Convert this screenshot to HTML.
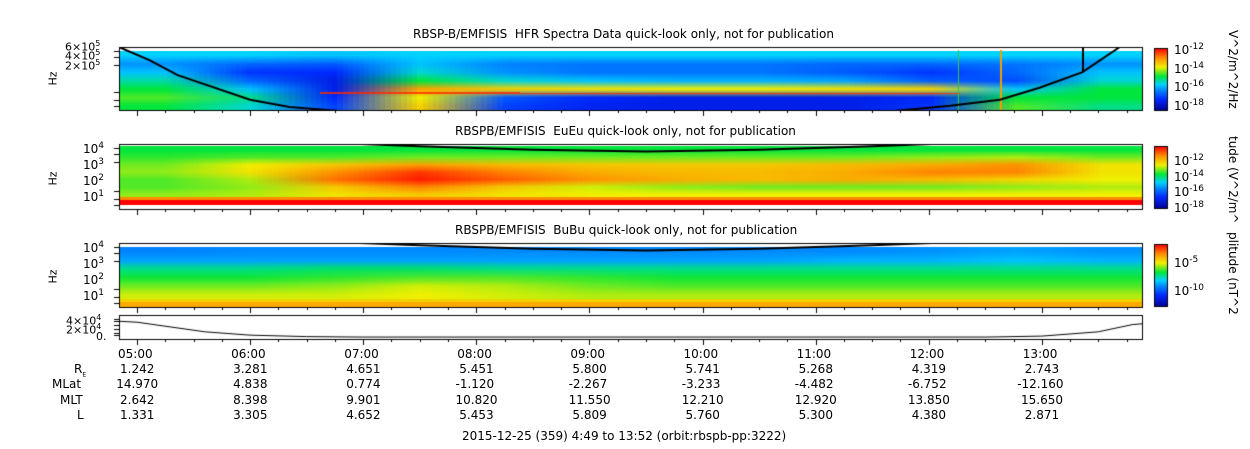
<!DOCTYPE html>
<html><head><meta charset="utf-8">
<style>
body{margin:0;background:#fff;width:1250px;height:449px;overflow:hidden;position:relative;font-family:"DejaVu Sans","Liberation Sans",sans-serif;font-size:12px;color:#000}
.a{position:absolute;white-space:nowrap}
canvas{position:absolute}
</style></head><body>
<canvas id="c" width="1250" height="449" style="left:0;top:0"></canvas>
<div class="a" style="left:413px;top:27px">RBSP-B/EMFISIS&nbsp; HFR Spectra Data quick-look only, not for publication</div>
<div class="a" style="left:455px;top:124px">RBSPB/EMFISIS&nbsp; EuEu quick-look only, not for publication</div>
<div class="a" style="left:455px;top:223px">RBSPB/EMFISIS&nbsp; BuBu quick-look only, not for publication</div>
<div class="a" style="left:462px;top:429px">2015-12-25 (359) 4:49 to 13:52 (orbit:rbspb-pp:3222)</div>
<div id="txt"></div>
<script>
// ---- data ----
const hours=["05:00","06:00","07:00","08:00","09:00","10:00","11:00","12:00","13:00"];
const rowNames=["R","MLat","MLT","L"];
const RE=["1.242","3.281","4.651","5.451","5.800","5.741","5.268","4.319","2.743"];
const MLAT=["14.970","4.838","0.774","-1.120","-2.267","-3.233","-4.482","-6.752","-12.160"];
const MLT=["2.642","8.398","9.901","10.820","11.550","12.210","12.920","13.850","15.650"];
const LSH=["1.331","3.305","4.652","5.453","5.809","5.760","5.300","4.380","2.871"];
// spectrogram grids: rows top->bottom, colormap level 0..1
const hfr=[
[.42,.42,.40,.42,.42,.42,.42,.42,.42,.42,.42,.42],
[.34,.28,.26,.40,.32,.30,.30,.30,.28,.28,.30,.34],
[.40,.20,.18,.45,.34,.30,.30,.30,.26,.20,.28,.40],
[.48,.28,.14,.55,.45,.40,.38,.38,.36,.26,.24,.45],
[.55,.40,.14,.82,.75,.72,.70,.70,.72,.74,.40,.55],
[.60,.50,.18,.70,.26,.18,.14,.14,.14,.18,.55,.55],
[.55,.45,.22,.75,.22,.16,.14,.14,.14,.20,.60,.50]];
const eueu=[
[.55,.55,.55,.55,.55,.55,.55,.55,.55,.55,.55,.55],
[.58,.60,.60,.62,.62,.62,.62,.62,.62,.64,.66,.62],
[.62,.70,.76,.82,.78,.76,.76,.76,.78,.80,.84,.72],
[.64,.72,.84,.94,.86,.80,.78,.78,.80,.86,.86,.72],
[.60,.66,.88,.97,.90,.84,.80,.78,.80,.78,.74,.70],
[.60,.64,.76,.86,.76,.68,.64,.62,.62,.62,.64,.66],
[.64,.66,.72,.76,.72,.70,.70,.70,.70,.70,.70,.70]];
const bubu=[
[.32,.33,.33,.33,.33,.33,.33,.33,.33,.34,.36,.34],
[.36,.36,.36,.36,.36,.36,.36,.36,.38,.38,.40,.38],
[.50,.50,.52,.52,.50,.50,.50,.50,.50,.50,.50,.50],
[.56,.56,.58,.60,.60,.58,.56,.56,.56,.56,.56,.56],
[.62,.62,.64,.68,.66,.62,.60,.60,.60,.60,.60,.60],
[.68,.68,.68,.70,.68,.66,.66,.66,.66,.66,.66,.66]];
// density line: hours after 05:00 -> fraction of panel height from top
const denT=[-0.16,0.11,0.36,1.0,1.35,2,6.5,7.19,7.63,7.98,8.36,8.69];
const denY=[0,.22,.47,.88,1,1.1,1.1,.98,.88,.68,.42,0];
const lowerT=[0.5,1.5,2.5,3.5,4.5,5.5,6.5,7.5,8.5];
const lowerY=[-.15,-.05,0.02,0.08,0.11,0.08,0.02,-0.05,-0.15];
const p4T=[-0.2,0,0.3,0.6,1,1.5,2,7.5,8,8.5,8.8,9.05];
const p4Y=[0.75,0.7,0.5,0.3,0.16,0.1,0.08,0.08,0.12,0.3,0.6,0.7];

// ---- layout ----
const X0=119,X1=1142;
const xs=t=>137+t*113.1;
const cvs=document.getElementById('c'),g=cvs.getContext('2d');
const stops=[[0,[0,0,150]],[.18,[0,40,255]],[.32,[0,130,255]],[.42,[0,210,255]],[.55,[0,230,60]],[.7,[240,240,0]],[.85,[255,140,0]],[1,[255,0,0]]];
function cmap(v){v=Math.max(0,Math.min(1,v));for(let i=1;i<stops.length;i++){if(v<=stops[i][0]){const a=stops[i-1],b=stops[i],f=(v-a[0])/(b[0]-a[0]);return a[1].map((c,k)=>Math.round(c+(b[1][k]-c)*f));}}return stops[stops.length-1][1];}
function spec(grid,x,y,w,h){
 const off=document.createElement('canvas');off.width=grid[0].length;off.height=grid.length;
 const o=off.getContext('2d'),im=o.createImageData(off.width,off.height);
 grid.forEach((r,i)=>r.forEach((v,j)=>{const c=cmap(v),k=(i*off.width+j)*4;im.data[k]=c[0];im.data[k+1]=c[1];im.data[k+2]=c[2];im.data[k+3]=255;}));
 o.putImageData(im,0,0);g.imageSmoothingEnabled=true;g.drawImage(off,x,y,w,h);
}
spec(hfr,X0,51,X1-X0,59);
// thin red emission lines in HFR
g.fillStyle='rgba(255,40,0,0.8)';g.fillRect(320,92,200,2);g.fillRect(520,93,440,1);
spec(eueu,X0,146,X1-X0,52);
g.fillStyle='rgb(255,140,0)';g.fillRect(X0,197,X1-X0,3);
g.fillStyle='rgb(255,0,0)';g.fillRect(X0,200,X1-X0,5);
spec(bubu,X0,247,X1-X0,52);
g.fillStyle='rgb(240,210,0)';g.fillRect(X0,299,X1-X0,5);g.fillStyle='rgb(255,170,0)';g.fillRect(X0,302,X1-X0,5);
// vertical lines in HFR
g.fillStyle='#f0a000';g.fillRect(1000,50,2,60);g.fillStyle='#40c040';g.fillRect(958,50,1,60);
function curve(T,Y,top,h,clipTop,clipBot){g.save();g.beginPath();g.rect(X0,clipTop,X1-X0,clipBot-clipTop);g.clip();g.beginPath();T.forEach((t,i)=>{const x=xs(t),y=top+Y[i]*h;i?g.lineTo(x,y):g.moveTo(x,y)});g.strokeStyle='#000';g.lineWidth=2;g.stroke();g.restore();}
curve(denT,denY,47,60,47,110);
g.fillStyle='#000';g.fillRect(1082,47,2,25);
curve(lowerT,lowerY,145,60,144,209);
curve(lowerT,lowerY,244,60,243,307);
// frames
g.strokeStyle='#000';g.lineWidth=1;
[[47,110],[144,209],[243,307],[315,339]].forEach(([a,b])=>{g.strokeRect(X0+.5,a+.5,X1-X0,b-a);
 for(let i=0;i<hours.length;i++){const x=Math.round(xs(i))+.5;g.beginPath();g.moveTo(x,b);g.lineTo(x,b+6);g.stroke();}
 for(let m=-0.5;m<9.1;m+=0.25){if(Math.abs(m-Math.round(m))<.01)continue;const x=Math.round(xs(m))+.5;if(x<X0||x>X1)continue;g.beginPath();g.moveTo(x,b);g.lineTo(x,b+3);g.stroke();}
 [a+4,a+10,a+18,b-18,b-10,b-4].forEach(y=>{g.beginPath();g.moveTo(X0-5,y+.5);g.lineTo(X0,y+.5);g.stroke();});
});
// panel 4 line
g.save();g.beginPath();g.rect(X0,315,X1-X0,24);g.clip();
g.beginPath();p4T.forEach((t,i)=>{const x=xs(t),y=315+(1-p4Y[i])*24;i?g.lineTo(x,y):g.moveTo(x,y)});g.lineWidth=1;g.stroke();g.restore();
// colorbars
function cbar(y,h){for(let i=0;i<h;i++){const c=cmap(1-i/h);g.fillStyle=`rgb(${c})`;g.fillRect(1154,y+i,13,1);}g.strokeStyle='#000';g.strokeRect(1154.5,y+.5,13,h);}
cbar(48,62);cbar(146,62);cbar(244,62);
// text
const T=document.getElementById('txt');
function tx(name,s,x,y,extra){const d=document.createElement('div');d.className='a';d.innerHTML=s;d.style.left=x+'px';d.style.top=y+'px';if(extra)d.style.cssText+=extra;


T.appendChild(d);return d;}
hours.forEach((h,i)=>{const x=xs(i);tx('time-tick-'+i,h,x-19,347);
 [RE,MLAT,MLT,LSH].forEach((arr,r)=>{const v=arr[i];tx('value-'+rowNames[r]+'-'+i,v,x-v.length*3.8+2,362+r*15.3);});});
tx('row-label-re','R<sub style="font-size:6px">E</sub>',74,362);
tx('row-label-mlat','MLat',52,377);tx('row-label-mlt','MLT',60,393);tx('row-label-l','L',77,408);
[['hz-label-1',72],['hz-label-2',172],['hz-label-3',270]].forEach(([n,y])=>tx(n,'Hz',46,y,'transform:rotate(-90deg);font-size:11px'));
tx('ytick-6e5','6×10<sup style="font-size:8px">5</sup>',65,39,'font-size:11px');
tx('ytick-4e5','4×10<sup style="font-size:8px">5</sup>',65,48,'font-size:11px');
tx('ytick-2e5','2×10<sup style="font-size:8px">5</sup>',65,58,'font-size:11px');
['10<sup style="font-size:9px">4</sup>','10<sup style="font-size:9px">3</sup>','10<sup style="font-size:9px">2</sup>','10<sup style="font-size:9px">1</sup>'].forEach((s,i)=>{
 tx('ytick-eueu-'+i,s,83,141+i*16);tx('ytick-bubu-'+i,s,83,240+i*16);});
tx('ytick-p4-4e4','4×10<sup style="font-size:8px">4</sup>',66,313,'font-size:11px');
tx('ytick-p4-2e4','2×10<sup style="font-size:8px">4</sup>',66,322,'font-size:11px');
tx('ytick-p4-0','0.',96,330,'font-size:11px');
['-12','-14','-16','-18'].forEach((e,i)=>tx('cbar1-tick-'+i,'10<sup style="font-size:9px">'+e+'</sup>',1174,42+i*18.5));
['-12','-14','-16','-18'].forEach((e,i)=>tx('cbar2-tick-'+i,'10<sup style="font-size:9px">'+e+'</sup>',1174,153+i*15.5));
tx('cbar3-tick-0','10<sup style="font-size:9px">-5</sup>',1174,255);tx('cbar3-tick-1','10<sup style="font-size:9px">-10</sup>',1174,283);
tx('cbar1-title','V^2/m^2/Hz',0,0,'transform:rotate(90deg);transform-origin:left top;left:1240px;top:30px');
tx('cbar2-title','tude (V^2/m^',0,0,'transform:rotate(90deg);transform-origin:left top;left:1240px;top:136px');
tx('cbar3-title','plitude (nT^2',0,0,'transform:rotate(90deg);transform-origin:left top;left:1240px;top:232px');
</script>
</body></html>
